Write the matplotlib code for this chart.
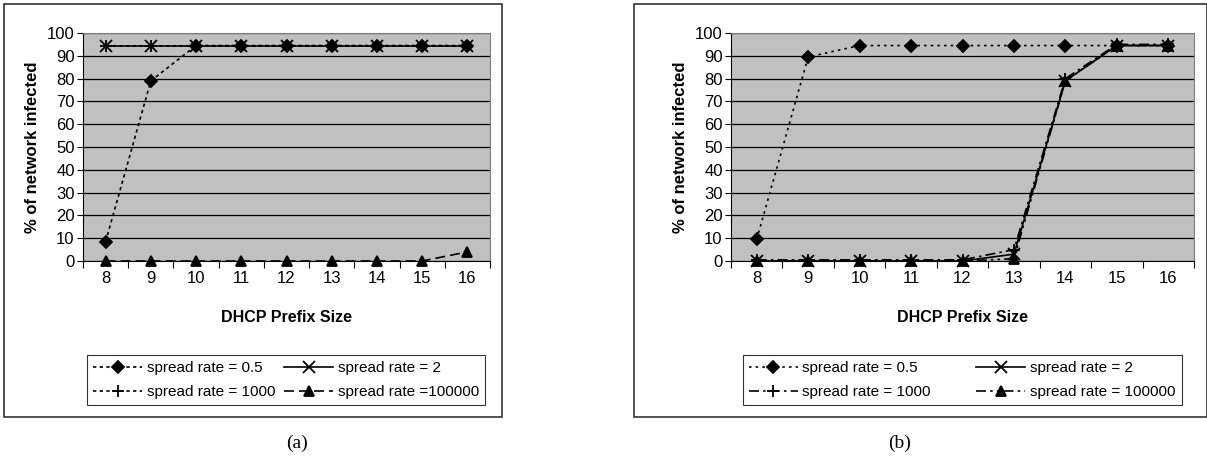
import matplotlib
matplotlib.use("Agg")
import matplotlib.pyplot as plt
from matplotlib.patches import Rectangle

# 데이터
prefix_sizes = [8, 9, 10, 11, 12, 13, 14, 15, 16]
series_labels_a = ["spread rate = 0.5", "spread rate = 2",
                   "spread rate = 1000", "spread rate =100000"]
series_labels_b = ["spread rate = 0.5", "spread rate = 2",
                   "spread rate = 1000", "spread rate = 100000"]

a_rate_05 = [8.5, 79, 94.5, 94.5, 94.5, 94.5, 94.5, 94.5, 94.5]
a_rate_2 = [94.5, 94.5, 94.5, 94.5, 94.5, 94.5, 94.5, 94.5, 94.5]
a_rate_1000 = [94.5, 94.5, 94.5, 94.5, 94.5, 94.5, 94.5, 94.5, 94.5]
a_rate_100000 = [0, 0, 0, 0, 0, 0, 0, 0, 4]

b_rate_05 = [9.5, 89.5, 94.5, 94.5, 94.5, 94.5, 94.5, 94.5, 94.5]
b_rate_2 = [0, 0, 0, 0, 0, 3, 79, 94.5, 94.5]
b_rate_1000 = [0.5, 0.5, 0.5, 0.5, 0.5, 5, 80, 95, 95]
b_rate_100000 = [0, 0, 0, 0, 0, 1, 79, 94.5, 94.5]

W, H = 1207, 463
plt.rcParams['font.family'] = ['Liberation Sans', 'DejaVu Sans']
fig = plt.figure(figsize=(W / 100, H / 100), dpi=100)


def px(x0, y0, x1, y1):
    # 픽셀 좌표 -> figure 좌표
    return [x0 / W, 1 - y1 / H, (x1 - x0) / W, (y1 - y0) / H]


def panel(box, plot, legend_xy, xlabel_y, caption_xy, caption, data, labels, styles,
          colsp):
    fig.patches.append(Rectangle((box[0] / W, 1 - box[3] / H),
                                 (box[2] - box[0]) / W, (box[3] - box[1]) / H,
                                 transform=fig.transFigure, fill=False,
                                 edgecolor="#333333", linewidth=1.2))
    ax = fig.add_axes(px(*plot))
    ax.set_facecolor("#c0c0c0")
    idx = list(range(len(prefix_sizes)))
    handles = []
    for values, label, (ls, mk, ms) in zip(data, labels, styles):
        h, = ax.plot(idx, values, color="black", linestyle=ls, linewidth=1.2,
                     marker=mk, markersize=ms, markeredgecolor="black",
                     markerfacecolor="black", markeredgewidth=1.3, label=label,
                     clip_on=False)
        handles.append(h)
    ax.set_xlim(-0.5, len(idx) - 0.5)
    ax.set_ylim(0, 100)
    ax.set_yticks(range(0, 101, 10))
    ax.yaxis.grid(True, color="black", linewidth=0.9)
    ax.set_axisbelow(True)
    # 엑셀처럼 눈금은 항목 사이에
    ax.set_xticks([i + 0.5 for i in idx[:-1]] + [-0.5, len(idx) - 0.5])
    ax.set_xticklabels([])
    ax.set_xticks(idx, minor=True)
    ax.set_xticklabels([str(s) for s in prefix_sizes], minor=True, fontsize=12)
    ax.tick_params(axis="x", which="minor", length=0, pad=7)
    ax.tick_params(axis="x", which="major", direction="out", length=5, width=0.8)
    ax.tick_params(axis="y", labelsize=12, length=4, direction="out", width=0.8, pad=2)
    for s in ["top", "right"]:
        ax.spines[s].set_color("#808080")
    for s in ["left", "bottom"]:
        ax.spines[s].set_color("black")
    ax.set_ylabel("% of network infected", fontsize=12, fontweight="bold", labelpad=5)
    fig.text((plot[0] + plot[2]) / 2 / W, 1 - xlabel_y / H, "DHCP Prefix Size",
             ha="center", va="center", fontsize=11.5, fontweight="bold")
    # 행 우선 순서로 보이도록 열 우선 배치 순서 조정
    order = [0, 2, 1, 3]
    leg = fig.legend(handles=[handles[i] for i in order], loc="center", ncol=2,
                     fontsize=11, frameon=True, fancybox=False, edgecolor="black",
                     handlelength=3.2, columnspacing=colsp, handletextpad=0.3,
                     borderpad=0.4, borderaxespad=0, labelspacing=0.65,
                     bbox_to_anchor=(legend_xy[0] / W, 1 - legend_xy[1] / H))
    leg.get_frame().set_linewidth(0.8)
    fig.text(caption_xy[0] / W, 1 - caption_xy[1] / H, caption, ha="center",
             va="center", fontsize=14, family="Liberation Serif")
    return ax


styles_a = [((0, (2, 2)), "D", 6), ("-", "x", 8), ((0, (2, 2)), "+", 9),
            ((0, (6, 3)), "^", 7)]
styles_b = [((0, (1.5, 2.5)), "D", 6), ("-", "x", 8), ((0, (6, 2.5, 1.5, 2.5)), "+", 9),
            ((0, (6, 2.5, 1.5, 2.5, 1.5, 2.5)), "^", 7)]

panel((4, 4, 502, 417), (83, 33, 490, 261), (286, 380), 318,
      (297, 443), "(a)",
      [a_rate_05, a_rate_2, a_rate_1000, a_rate_100000], series_labels_a, styles_a, 0.6)
panel((634, 4, 1207, 417), (731, 33, 1194, 261), (962, 380), 318,
      (900, 443), "(b)",
      [b_rate_05, b_rate_2, b_rate_1000, b_rate_100000], series_labels_b, styles_b, 3.0)

fig.savefig("out.png", dpi=100)
